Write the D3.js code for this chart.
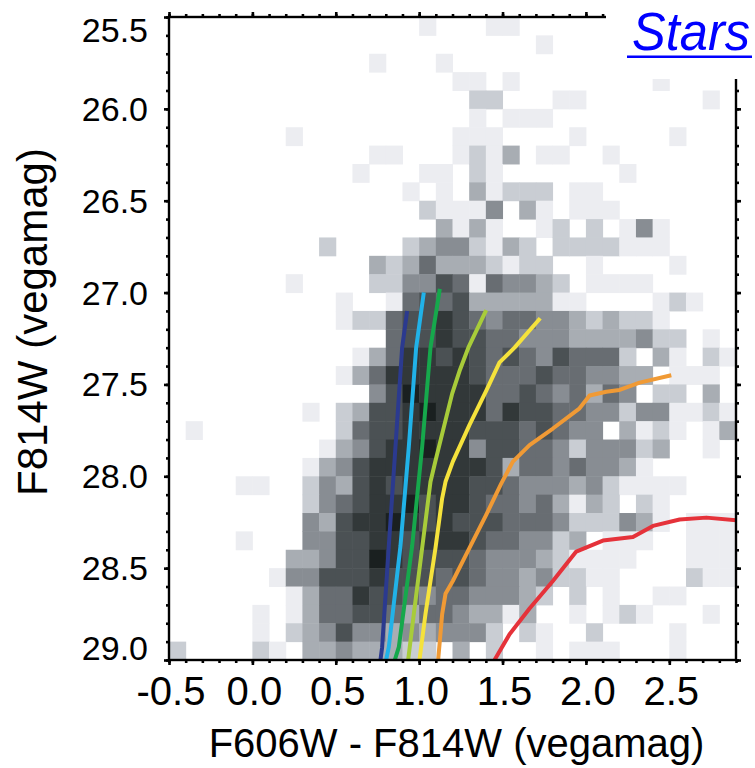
<!DOCTYPE html>
<html>
<head>
<meta charset="utf-8">
<script src="https://cdn.jsdelivr.net/npm/d3@7/dist/d3.min.js"></script>
<style>
  body { margin: 0; background: #fff; }
  svg { display: block; }
  text { font-family: "Liberation Sans", Arial, Helvetica, sans-serif; fill: #000; }
</style>
</head>
<body>
<div id="hessDiv"></div>
<script>
/** Hess diagram data: lower edges of the bins */
var colorBins = [-0.5,-0.4,-0.3,-0.2,-0.1,0.0,0.1,0.2,0.3,0.4,0.5,0.6,0.7,0.8,0.9,1.0,1.1,
                 1.2,1.3,1.4,1.5,1.6,1.7,1.8,1.9,2.0,2.1,2.2,2.3,2.4,2.5,2.6,2.7,2.8];
var magBins = [25.5,25.6,25.7,25.8,25.9,26.0,26.1,26.2,26.3,26.4,26.5,26.6,26.7,26.8,26.9,27.0,27.1,27.2,
               27.3,27.4,27.5,27.6,27.7,27.8,27.9,28.0,28.1,28.2,28.3,28.4,28.5,28.6,28.7,28.8,28.9];
var binSize = 0.1;

// shade level of every cell (0 empty ... 8 densest), one string per magnitude row
var hessRows = [
  "0000000000 0000010001 1000000000 0000",
  "0000000000 0000000000 0010000000 0000",
  "0000000000 0010001000 0000000000 0000",
  "0000000000 0000000110 1000000001 0000",
  "0000000000 0000000022 0001100000 0010",
  "0000000000 0000000010 1110000000 0000",
  "0000000100 0000000111 0000100000 1000",
  "0000000000 0011000121 3011001000 0000",
  "0000000000 0100011021 0000000100 0000",
  "0000000000 0000101031 2220110000 0000",
  "0000000000 0000021114 0310111000 0000",
  "0000000000 0000003131 0012020141 0000",
  "0000000002 0000234421 3202222111 0000",
  "0000000000 0032353332 1220010000 1000",
  "0000000100 0022446515 4432011110 0000",
  "0000000000 1001565633 3331100001 2100",
  "0000000000 1225667654 5544323221 0000",
  "0000000000 0005667665 5444333342 2010",
  "0000000000 0135776765 6546555203 1021",
  "0000000000 1357777765 5565544330 1110",
  "0000000000 0046877775 5654535402 2030",
  "0000000010 2366787775 7665544244 1121",
  "0100000000 2566777766 6565440312 1013",
  "0000000001 3467787746 6554244423 0010",
  "0000000013 4677777776 3554544310 0000",
  "0000110024 3676777766 5444342111 1000",
  "0000000024 5677867765 5453132021 0000",
  "0000000043 6778767666 5554222431 0111",
  "0000100044 6677677765 5442301110 0111",
  "0000000334 6687666654 4432111100 0111",
  "0000001446 6676665654 4342211000 0211",
  "0000000135 5766545544 4320201001 1000",
  "0000010135 5665355433 1300101210 0010",
  "0000010234 6443434442 0210020000 1000",
  "2000021033 4333220302 0010111000 1000"
];

/** Axis ticks */
var xTickValues = [-0.5, 0.0, 0.5, 1.0, 1.5, 2.0, 2.5];
var xTickLabels = ["-0.5", "0.0", "0.5", "1.0", "1.5", "2.0", "2.5"];
var yTickValues = [25.5, 26.0, 26.5, 27.0, 27.5, 28.0, 28.5, 29.0];
var yTickLabels = ["25.5", "26.0", "26.5", "27.0", "27.5", "28.0", "28.5", "29.0"];

/** Isochrones, [F606W - F814W, F814W] */
var iso1 = [[0.928,27.10],[0.898,27.30],[0.858,27.84],[0.818,28.38],[0.778,28.93],[0.768,29.0]];
var iso2 = [[1.028,27.00],[0.982,27.30],[0.938,27.84],[0.888,28.38],[0.818,28.93],[0.802,29.0]];
var iso3 = [[1.124,26.98],[1.068,27.30],[1.018,27.84],[0.958,28.38],[0.878,28.93],[0.854,29.0]];
var iso4 = [[1.402,27.095],[1.295,27.30],[1.245,27.42],[1.198,27.55],[1.098,27.915],[1.068,28.03],
            [1.018,28.39],[0.968,28.75],[0.934,29.0]];
var iso5 = [[1.726,27.14],[1.572,27.30],[1.482,27.38],[1.402,27.535],[1.302,27.72],[1.202,27.92],
            [1.158,28.03],[1.138,28.12],[1.098,28.39],[1.038,28.75],[1.002,29.0]];
var iso6 = [[2.512,27.45],[2.322,27.49],[2.202,27.53],[2.122,27.54],[2.022,27.56],[1.962,27.63],
            [1.802,27.74],[1.662,27.83],[1.562,27.92],[1.492,28.04],[1.402,28.21],[1.302,28.39],
            [1.202,28.57],[1.158,28.64],[1.138,28.75],[1.114,29.0]];
var iso7 = [[2.95,28.245],[2.902,28.24],[2.722,28.225],[2.562,28.235],[2.402,28.27],[2.282,28.33],
            [2.102,28.35],[1.942,28.41],[1.802,28.57],[1.662,28.72],[1.542,28.86],[1.452,29.0]];
var isochrones = [iso1, iso2, iso3, iso4, iso5, iso6, iso7];
var isoColors = ["#2b3a8f", "#21b2e8", "#16a84c", "#a8cc3a", "#f5e23c", "#f09a35", "#e5323a"];

/** Layout */
var margin = {top: 17, right: 19, bottom: 108, left: 169},
    width = 755 - margin.left - margin.right,
    height = 768 - margin.top - margin.bottom;

var xScale = d3.scaleLinear().domain([-0.5, 2.9]).range([0, width]);
var yScale = d3.scaleLinear().domain([25.5, 29.0]).range([0, height]);

// grey ramp with a slight blue tint
var shade = d3.scaleLinear()
    .domain([1, 2, 3, 4, 5, 6, 7, 8])
    .range(["#ecedf1", "#c9cdd3", "#a8adb3", "#888d93", "#686d72", "#4b5154", "#323839", "#1a2020"]);

var root = d3.select("#hessDiv").append("svg")
    .attr("width", 755)
    .attr("height", 768);

var svg = root.append("g")
    .attr("transform", "translate(" + margin.left + "," + margin.top + ")");

// flatten the rows into cells
var cells = [];
hessRows.forEach(function(row, i) {
    row.replace(/ /g, "").split("").forEach(function(ch, j) {
        var lev = +ch;
        if (lev > 0) cells.push({c: colorBins[j], m: magBins[i], lev: lev});
    });
});

svg.selectAll(".cell")
    .data(cells)
    .enter().append("rect")
    .attr("class", "cell")
    .attr("x", function(d) { return xScale(d.c); })
    .attr("y", function(d) { return yScale(d.m); })
    .attr("width", function(d) { return xScale(d.c + binSize) - xScale(d.c) + 0.5; })
    .attr("height", function(d) { return yScale(d.m + binSize) - yScale(d.m) + 0.5; })
    .attr("fill", function(d) { return shade(d.lev); });

// isochrones, clipped to the frame
svg.append("clipPath").attr("id", "plotClip")
  .append("rect").attr("width", width).attr("height", height);

var line = d3.line()
    .x(function(d) { return xScale(d[0]); })
    .y(function(d) { return yScale(d[1]); });

svg.append("g")
    .attr("clip-path", "url(#plotClip)")
  .selectAll(".iso")
    .data(isochrones)
    .enter().append("path")
    .attr("class", "iso")
    .attr("d", line)
    .attr("fill", "none")
    .attr("stroke", function(d, i) { return isoColors[i]; })
    .attr("stroke-width", 4)
    .attr("stroke-linejoin", "round");

/** Frame and ticks (outward, major every 0.5, minor every 0.1) */
var xMinor = d3.range(-0.5, 2.95, 0.1),
    yMinor = d3.range(25.5, 29.05, 0.1);

function styleAxis(g) {
    g.select(".domain").remove();
    g.selectAll(".tick line").attr("stroke", "#000").attr("stroke-width", 2.6);
}

svg.append("g").attr("transform", "translate(0," + height + ")")
    .call(d3.axisBottom(xScale).tickValues(xMinor).tickSize(3).tickFormat(""))
    .call(styleAxis);
svg.append("g").call(d3.axisTop(xScale).tickValues(xMinor).tickSize(3).tickFormat(""))
    .call(styleAxis);
svg.append("g").call(d3.axisLeft(yScale).tickValues(yMinor).tickSize(3).tickFormat(""))
    .call(styleAxis);
svg.append("g").attr("transform", "translate(" + width + ",0)")
    .call(d3.axisRight(yScale).tickValues(yMinor).tickSize(3).tickFormat(""))
    .call(styleAxis);

svg.append("g").attr("transform", "translate(0," + height + ")")
    .call(d3.axisBottom(xScale).tickValues(xTickValues).tickSize(5).tickFormat(""))
    .call(styleAxis);
svg.append("g").call(d3.axisTop(xScale).tickValues(xTickValues).tickSize(5).tickFormat(""))
    .call(styleAxis);
svg.append("g").call(d3.axisLeft(yScale).tickValues(yTickValues).tickSize(5).tickFormat(""))
    .call(styleAxis);
svg.append("g").attr("transform", "translate(" + width + ",0)")
    .call(d3.axisRight(yScale).tickValues(yTickValues).tickSize(5).tickFormat(""))
    .call(styleAxis);

svg.append("rect")
    .attr("width", width)
    .attr("height", height)
    .attr("fill", "none")
    .attr("stroke", "#000")
    .attr("stroke-width", 2.4);

/** Tick labels */
svg.append("g").selectAll(".xlab")
    .data(xTickValues)
    .enter().append("text")
    .attr("class", "xlab")
    .attr("x", function(d) { return xScale(d) + 2; })
    .attr("y", height + 45)
    .attr("text-anchor", "middle")
    .style("font-size", "40px")
    .text(function(d, i) { return xTickLabels[i]; });

svg.append("g").selectAll(".ylab")
    .data(yTickValues)
    .enter().append("text")
    .attr("class", "ylab")
    .attr("x", -21)
    .attr("y", function(d) { return yScale(d); })
    .attr("dy", function(d, i) {
        // end labels are pulled inside the frame
        if (i === 0) return 25;
        if (i === yTickValues.length - 1) return 0;
        return 12;
    })
    .attr("text-anchor", "end")
    .style("font-size", "34px")
    .text(function(d, i) { return yTickLabels[i]; });

/** Axis titles */
svg.append("text")
    .attr("x", width / 2 + 4)
    .attr("y", height + 97)
    .attr("text-anchor", "middle")
    .style("font-size", "40px")
    .text("F606W - F814W (vegamag)");

svg.append("text")
    .attr("transform", "translate(" + (-122) + "," + (322 - margin.top) + ") rotate(-90)")
    .attr("text-anchor", "middle")
    .style("font-size", "42px")
    .text("F814W (vegamag)");

/** "Stars" link label, on a white box that hides the top-right corner */
root.append("rect")
    .attr("x", 606)
    .attr("y", 0)
    .attr("width", 149)
    .attr("height", 79)
    .attr("fill", "#fff");

root.append("text")
    .attr("x", 632)
    .attr("y", 50)
    .style("font-size", "53px")
    .style("font-style", "italic")
    .style("fill", "#0000ff")
    .attr("textLength", 118)
    .attr("lengthAdjust", "spacingAndGlyphs")
    .text("Stars");

root.append("rect")
    .attr("x", 627)
    .attr("y", 55.5)
    .attr("width", 125)
    .attr("height", 2.5)
    .attr("fill", "#0000ff");
</script>
</body>
</html>
